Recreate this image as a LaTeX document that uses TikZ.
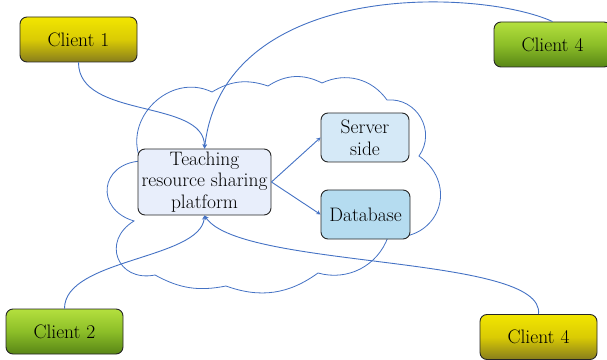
\documentclass[tikz,border=0pt]{standalone}
\usetikzlibrary{arrows}

\definecolor{linkblue}{RGB}{68,114,196}
\definecolor{yeltop}{RGB}{242,230,0}
\definecolor{yelmid}{RGB}{218,203,4}
\definecolor{yelbot}{RGB}{135,125,28}
\definecolor{grntop}{RGB}{180,224,62}
\definecolor{grnmid}{RGB}{140,190,40}
\definecolor{grnbot}{RGB}{88,134,22}
\definecolor{platfill}{RGB}{232,238,251}
\definecolor{srvfill}{RGB}{213,233,247}
\definecolor{dbfill}{RGB}{181,220,240}

\begin{document}
\begin{tikzpicture}[x=1pt,y=1pt,>=stealth,
	box/.style={draw=black!85,line width=0.9pt,rounded corners=7pt,inner sep=0pt,
		align=center,font=\fontsize{19.5}{21.7}\selectfont},
	yclient/.style={box,minimum width=117pt,minimum height=45pt,
		top color=yeltop,bottom color=yelbot,middle color=yelmid},
	gclient/.style={box,minimum width=117pt,minimum height=45pt,
		top color=grntop,bottom color=grnbot,middle color=grnmid},
	link/.style={->,linkblue,line width=0.9pt}]
	\useasboundingbox (0,0) rectangle (607,359);
	% cloud round the platform
	\draw[linkblue,line width=0.8pt]
	(141,198) to[bend left=70,looseness=1.2] (212,267)
	to[bend left=25] (268,273)
	to[bend left=30] (322,276)
	to[bend left=40] (387,259)
	to[bend left=65,looseness=1.2] (419,203)
	to[bend left=75,looseness=1.5] (388,122)
	to[bend left=43] (318,86)
	to[bend left=28] (226,73)
	to[bend left=20] (155,84)
	to[bend left=80,looseness=1.7] (134,138)
	to[bend left=80,looseness=1.75] (141,198);
	% boxes
	\node[yclient] (c1) at (78.5,319.5) {Client 1};
	\node[gclient] (c4a) at (552.5,314.5) {Client 4};
	\node[box,fill=platfill,minimum width=133pt,minimum height=66pt] (plat) at (204.5,177)
		{Teaching\\resource sharing\\platform};
	\node[box,fill=srvfill,minimum width=88pt,minimum height=49pt] (srv) at (365,221.5) {Server\\side};
	\node[box,fill=dbfill,minimum width=89pt,minimum height=49pt] (db) at (365.5,144.5) {Database};
	\node[gclient] (c2) at (64.5,27.5) {Client 2};
	\node[yclient] (c4b) at (538.5,22) {Client 4};
	% links
	\path[link]
	(plat.east) edge (srv.west)
	(plat.east) edge (db.west);
	\draw[link] (c1.south) .. controls +(0,-57) and +(0,50) .. (plat.north);
	\draw[link] (c4a.north) .. controls +(-72,33) and +(20,170) .. (plat.north);
	\draw[link] (c2.north) .. controls +(0,50) and +(-4,-44) .. (plat.south);
	\draw[link] (c4b.north) .. controls +(7,60) and +(36,-54) .. (plat.south);
\end{tikzpicture}
\end{document}
